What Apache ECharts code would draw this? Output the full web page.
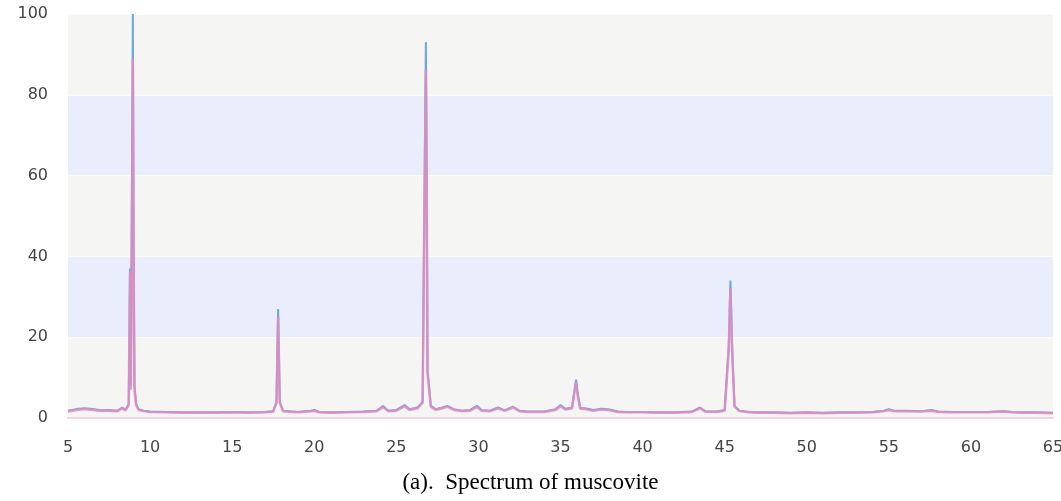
<!DOCTYPE html>
<html>
<head>
<meta charset="utf-8">
<script src="https://cdn.jsdelivr.net/npm/echarts@6/dist/echarts.min.js"></script>
<style>
	html, body { margin: 0; padding: 0; background: #fff; }
	#myChart { width: 1061px; height: 501px; }
</style>
</head>
<body>
<div id="myChart"></div>
<script type="text/javascript">
// 2θ (degrees) vs intensity
var blueData = [
	[5,1.8],[5.5,2.2],[6,2.4],[6.5,2.2],[7,1.9],[7.5,2.0],[8,1.8],[8.3,2.6],[8.5,2.0],[8.7,3.5],
	[8.78,37],[8.83,8],[8.9,60],[8.95,100],[9.0,40],[9.05,8],[9.15,3.5],[9.3,2.2],[9.6,1.8],
	[10,1.6],[11,1.5],[12,1.4],[13,1.4],[14,1.4],[15,1.5],[16,1.4],[17,1.5],[17.5,1.7],
	[17.7,4],[17.8,27],[17.9,4],[18.1,1.8],[19,1.5],[19.8,1.8],[20,2.0],[20.3,1.5],[21,1.4],
	[22,1.5],[23,1.6],[23.8,1.8],[24.2,3.0],[24.5,1.8],[25,2.0],[25.5,3.2],[25.8,2.2],[26.3,2.6],
	[26.6,4],[26.7,48],[26.8,93],[26.85,60],[26.9,12],[27.1,3],[27.4,2.2],[27.8,2.6],[28.1,3.0],
	[28.5,2.2],[29,1.8],[29.5,2.0],[29.9,3.0],[30.2,2.0],[30.7,1.8],[31.2,2.6],[31.6,1.9],
	[32.1,2.8],[32.5,1.8],[33,1.6],[34,1.6],[34.7,2.2],[35,3.2],[35.3,2.3],[35.7,2.6],
	[35.95,9.5],[36.05,6],[36.2,2.5],[36.5,2.4],[37,2.0],[37.5,2.3],[38,2.1],[38.5,1.6],
	[39,1.5],[40,1.5],[41,1.4],[42,1.4],[43,1.6],[43.5,2.6],[43.8,1.7],[44.5,1.6],[45.0,2.0],
	[45.25,18],[45.35,34],[45.45,18],[45.6,3],[45.9,1.8],[46.5,1.5],[47,1.4],[48,1.4],[49,1.3],
	[50,1.4],[51,1.3],[52,1.4],[53,1.4],[54,1.5],[54.7,1.8],[55,2.2],[55.3,1.8],[56,1.8],
	[57,1.7],[57.6,2.0],[58,1.6],[59,1.5],[60,1.5],[61,1.5],[62,1.7],[62.5,1.5],[63,1.4],
	[64,1.4],[65,1.3]
];
var pinkData = [
	[5,1.6],[5.5,2.0],[6,2.2],[6.5,2.0],[7,1.8],[7.5,1.8],[8,1.7],[8.3,2.4],[8.5,1.9],[8.7,3.2],
	[8.78,36],[8.83,7],[8.9,55],[8.95,89],[9.0,38],[9.05,7],[9.15,3.2],[9.3,2.0],[9.6,1.7],
	[10,1.5],[11,1.4],[12,1.3],[13,1.3],[14,1.3],[15,1.4],[16,1.3],[17,1.4],[17.5,1.6],
	[17.7,3.8],[17.8,25],[17.9,3.8],[18.1,1.7],[19,1.4],[19.8,1.7],[20,1.8],[20.3,1.4],[21,1.3],
	[22,1.4],[23,1.5],[23.8,1.7],[24.2,2.7],[24.5,1.7],[25,1.8],[25.5,2.9],[25.8,2.0],[26.3,2.4],
	[26.6,3.8],[26.7,47],[26.8,86],[26.85,55],[26.9,11],[27.1,2.8],[27.4,2.0],[27.8,2.4],[28.1,2.8],
	[28.5,2.0],[29,1.7],[29.5,1.8],[29.9,2.7],[30.2,1.8],[30.7,1.7],[31.2,2.4],[31.6,1.8],
	[32.1,2.6],[32.5,1.7],[33,1.5],[34,1.5],[34.7,2.0],[35,2.9],[35.3,2.1],[35.7,2.4],
	[35.95,9],[36.05,5.5],[36.2,2.3],[36.5,2.2],[37,1.8],[37.5,2.1],[38,1.9],[38.5,1.5],
	[39,1.4],[40,1.4],[41,1.3],[42,1.3],[43,1.5],[43.5,2.4],[43.8,1.6],[44.5,1.5],[45.0,1.8],
	[45.25,17],[45.35,32],[45.45,17],[45.6,2.8],[45.9,1.7],[46.5,1.4],[47,1.3],[48,1.3],[49,1.2],
	[50,1.3],[51,1.2],[52,1.3],[53,1.3],[54,1.4],[54.7,1.7],[55,2.0],[55.3,1.7],[56,1.7],
	[57,1.6],[57.6,1.8],[58,1.5],[59,1.4],[60,1.4],[61,1.4],[62,1.6],[62.5,1.4],[63,1.3],
	[64,1.3],[65,1.2]
];
var captionText = '(a).  Spectrum of muscovite';

var myChart = echarts.init(document.getElementById('myChart'));
myChart.setOption({
	animation: false,
	title: {
		text: captionText,
		left: 'center',
		bottom: 2,
		textStyle: {
			fontFamily: 'Liberation Serif',
			fontSize: 23,
			fontWeight: 'normal',
			color: '#000'
		}
	},
	grid: {
		left: 68,
		right: 8,
		top: 14,
		bottom: 83,
		outerBoundsMode: 'none'
	},
	xAxis: {
		type: 'value',
		min: 5,
		max: 65,
		interval: 5,
		axisLine: { show: true, lineStyle: { color: '#f2d6e2', width: 2 } },
		axisTick: { show: false },
		splitLine: { show: false },
		axisLabel: {
			color: '#444',
			fontFamily: 'DejaVu Sans',
			fontSize: 16,
			margin: 22
		}
	},
	yAxis: {
		type: 'value',
		min: 0,
		max: 100,
		interval: 20,
		axisLine: { show: false },
		axisTick: { show: false },
		splitLine: { show: true, lineStyle: { color: '#fbfbfb' } },
		splitArea: {
			show: true,
			areaStyle: { color: ['#f5f5f3', '#e9edfc'] }
		},
		axisLabel: {
			color: '#444',
			fontFamily: 'DejaVu Sans',
			fontSize: 16,
			margin: 20
		}
	},
	series: [
		{
			name: 'blue',
			type: 'line',
			data: blueData,
			showSymbol: false,
			lineStyle: { color: '#6fa6de', width: 2 },
			z: 2
		},
		{
			name: 'pink',
			type: 'line',
			data: pinkData,
			showSymbol: false,
			lineStyle: { color: '#e38cc0', width: 2.5, opacity: 0.85 },
			z: 3
		}
	]
});
</script>
</body>
</html>
